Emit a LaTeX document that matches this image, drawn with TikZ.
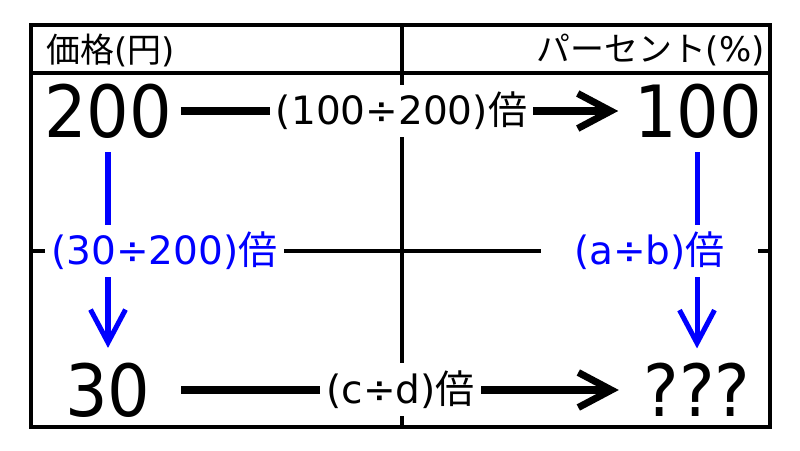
\documentclass[tikz,border=0pt]{standalone}
\usepackage{fontspec}
\setmainfont{DejaVu Sans}
\newfontfamily\cjk{Noto Sans CJK JP}
\newfontfamily\numfont[FakeStretch=0.93]{DejaVu Sans}
\usetikzlibrary{arrows.meta}

\begin{document}
\begin{tikzpicture}[x=0.02cm, y=-0.02cm,
    tblline/.style={draw, line width=2.3pt},
    num/.style={inner sep=0pt, font=\numfont\fontsize{41}{41}\selectfont},
    head/.style={inner sep=0pt, font=\fontsize{19.3}{20}\selectfont},
    lbl/.style={fill=white, inner xsep=0.12cm, inner ysep=0pt, minimum height=1.05cm, font=\fontsize{22.2}{23}\selectfont},
    conv/.style={line width=4pt, -{Straight Barb[length=0.66cm, width=0.7cm]}},
    ratio/.style={conv, draw=blue, line width=2.85pt}]

    \useasboundingbox (0,0) rectangle (800,450);

    % Table
    \draw[tblline] (31,25) rectangle (770,427);
    \draw[tblline] (31,73) -- (770,73);
    \draw[tblline] (402,25) -- (402,427);
    \draw[tblline] (31,251) -- (770,251);

    % Headers
    \node[head, anchor=west] (hprice) at (46,50) {{\cjk 価格}({\cjk 円})};
    \node[head, anchor=east] (hpct) at (765,50) {{\cjk パーセント}(\%)};

    % Values
    \node[num] (p200) at (108,111) {200};
    \node[num] (c100) at (698,111) {100};
    \node[num] (p30) at (108,390) {30};
    \node[num] (cq) at (697,390) {???};

    % Arrows
    \draw[conv, shorten <=0.17cm, shorten >=0.31cm] (p200) -- (c100);
    \draw[conv, shorten <=0.61cm, shorten >=0.49cm] (p30) -- (cq);
    \draw[ratio, shorten <=0.27cm, shorten >=0.29cm] (p200) -- (p30);
    \draw[ratio, shorten <=0.27cm, shorten >=0.29cm] (cq |- c100.south) -- (cq);

    % Factors
    \node[lbl] (ftop) at (401.5,111) {(100÷200){\cjk 倍}};
    \node[lbl] (fbot) at (400.5,389.5) {(c÷d){\cjk 倍}};
    \node[lbl, text=blue] (fleft) at (164.5,251) {(30÷200){\cjk 倍}};
    \node[lbl, text=blue, minimum width=4.34cm] (fright) at (649.5,251) {(a÷b){\cjk 倍}};

\end{tikzpicture}
\end{document}
